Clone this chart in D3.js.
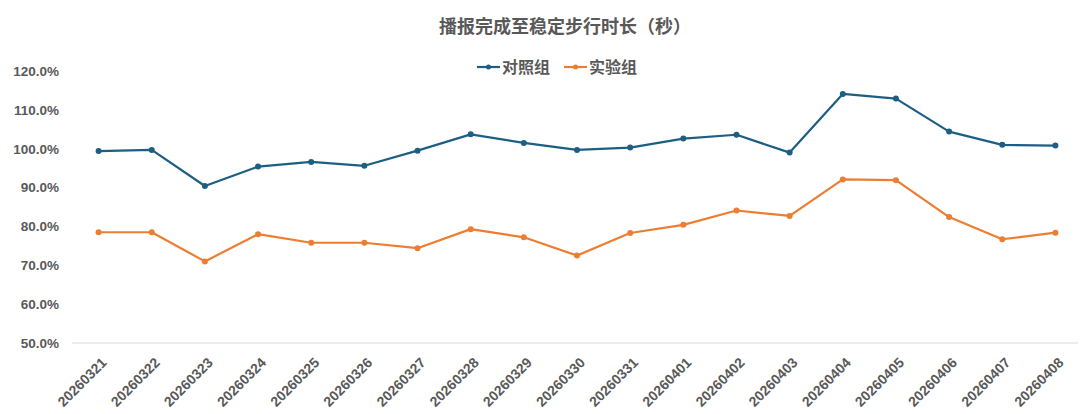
<!DOCTYPE html>
<html>
<head>
<meta charset="utf-8">
<script src="https://cdn.jsdelivr.net/npm/d3@7"></script>
<style>
  body { margin: 0; background: #fff; }
  svg { font-family: "Noto Sans CJK SC", "Liberation Sans", sans-serif; }
</style>
</head>
<body>
<div class="chart_box"></div>
<script>
// Chart data
const dates = ["20260321", "20260322", "20260323", "20260324", "20260325", "20260326", "20260327",
  "20260328", "20260329", "20260330", "20260331", "20260401", "20260402", "20260403",
  "20260404", "20260405", "20260406", "20260407", "20260408"];
const control = [99.4, 99.7, 90.4, 95.4, 96.6, 95.6, 99.5, 103.7, 101.5, 99.7, 100.3, 102.6,
  103.6, 99.0, 114.1, 112.9, 104.4, 101.0, 100.8];
const experiment = [78.5, 78.5, 71.0, 78.0, 75.8, 75.8, 74.4, 79.3, 77.2, 72.5, 78.3, 80.4,
  84.1, 82.7, 92.1, 91.9, 82.4, 76.7, 78.4];
const yTicks = [50, 60, 70, 80, 90, 100, 110, 120];
const seriesNames = ["对照组", "实验组"];
const colors = ["#1d5f82", "#ed7d31"];

const width = 1080, height = 414;

// Set up the SVG canvas
const svg = d3
  .select(".chart_box")
  .append("svg")
  .attr("width", width)
  .attr("height", height);

// Scales
const xScale = d3.scalePoint().domain(dates).range([72, 1082]).padding(0.5);
const yScale = d3.scaleLinear().domain([50, 120]).range([343, 71]);

// Title
svg.append("text")
  .attr("x", 565)
  .attr("y", 27)
  .attr("dy", "0.35em")
  .attr("text-anchor", "middle")
  .attr("font-size", 18)
  .attr("font-weight", "bold")
  .attr("fill", "#595959")
  .text("播报完成至稳定步行时长（秒）");

// Baseline
svg.append("line")
  .attr("x1", 72)
  .attr("x2", 1078)
  .attr("y1", yScale(50))
  .attr("y2", yScale(50))
  .attr("stroke", "#d9d9d9")
  .attr("stroke-width", 1);

// Y axis
const yAxis = svg.append("g")
  .attr("transform", "translate(62, 0)")
  .call(d3.axisLeft(yScale).tickValues(yTicks).tickSize(0).tickFormat((d) => d.toFixed(1) + "%"));
yAxis.select(".domain").remove();
yAxis.selectAll("text")
  .attr("font-family", "'Liberation Sans', sans-serif")
  .attr("font-size", 13.5)
  .attr("font-weight", "bold")
  .attr("fill", "#595959");

// X axis
const xAxis = svg.append("g")
  .attr("transform", `translate(0, ${yScale(50)})`)
  .call(d3.axisBottom(xScale).tickSize(0));
xAxis.select(".domain").remove();
xAxis.selectAll("text")
  .attr("font-family", "'Liberation Sans', sans-serif")
  .attr("font-size", 14)
  .attr("font-weight", "bold")
  .attr("fill", "#595959")
  .attr("x", 0)
  .attr("y", 0)
  .attr("dy", "0.35em")
  .attr("transform", "translate(5, 17) rotate(-45)")
  .style("text-anchor", "end");

// Lines and points
const line = d3.line()
  .x((d, i) => xScale(dates[i]))
  .y((d) => yScale(d));

[control, experiment].forEach((values, k) => {
  svg.append("path")
    .datum(values)
    .attr("fill", "none")
    .attr("stroke", colors[k])
    .attr("stroke-width", 2.2)
    .attr("stroke-linejoin", "round")
    .attr("d", line);

  svg.selectAll(".pt" + k)
    .data(values)
    .enter()
    .append("circle")
    .attr("class", "pt" + k)
    .attr("cx", (d, i) => xScale(dates[i]))
    .attr("cy", (d) => yScale(d))
    .attr("r", 3)
    .attr("fill", colors[k]);
});

// Legend
const legend = svg.append("g").attr("transform", "translate(477, 67)");
seriesNames.forEach((name, k) => {
  const g = legend.append("g").attr("transform", `translate(${k * 87}, 0)`);
  g.append("line")
    .attr("x1", 0).attr("x2", 23).attr("y1", 0).attr("y2", 0)
    .attr("stroke", colors[k]).attr("stroke-width", 2.2);
  g.append("circle").attr("cx", 11.5).attr("cy", 0).attr("r", 2.5).attr("fill", colors[k]);
  g.append("text")
    .attr("x", 25)
    .attr("y", 0)
    .attr("dy", "0.35em")
    .attr("font-size", 16)
    .attr("font-weight", "bold")
    .attr("fill", "#595959")
    .text(name);
});
</script>
</body>
</html>
